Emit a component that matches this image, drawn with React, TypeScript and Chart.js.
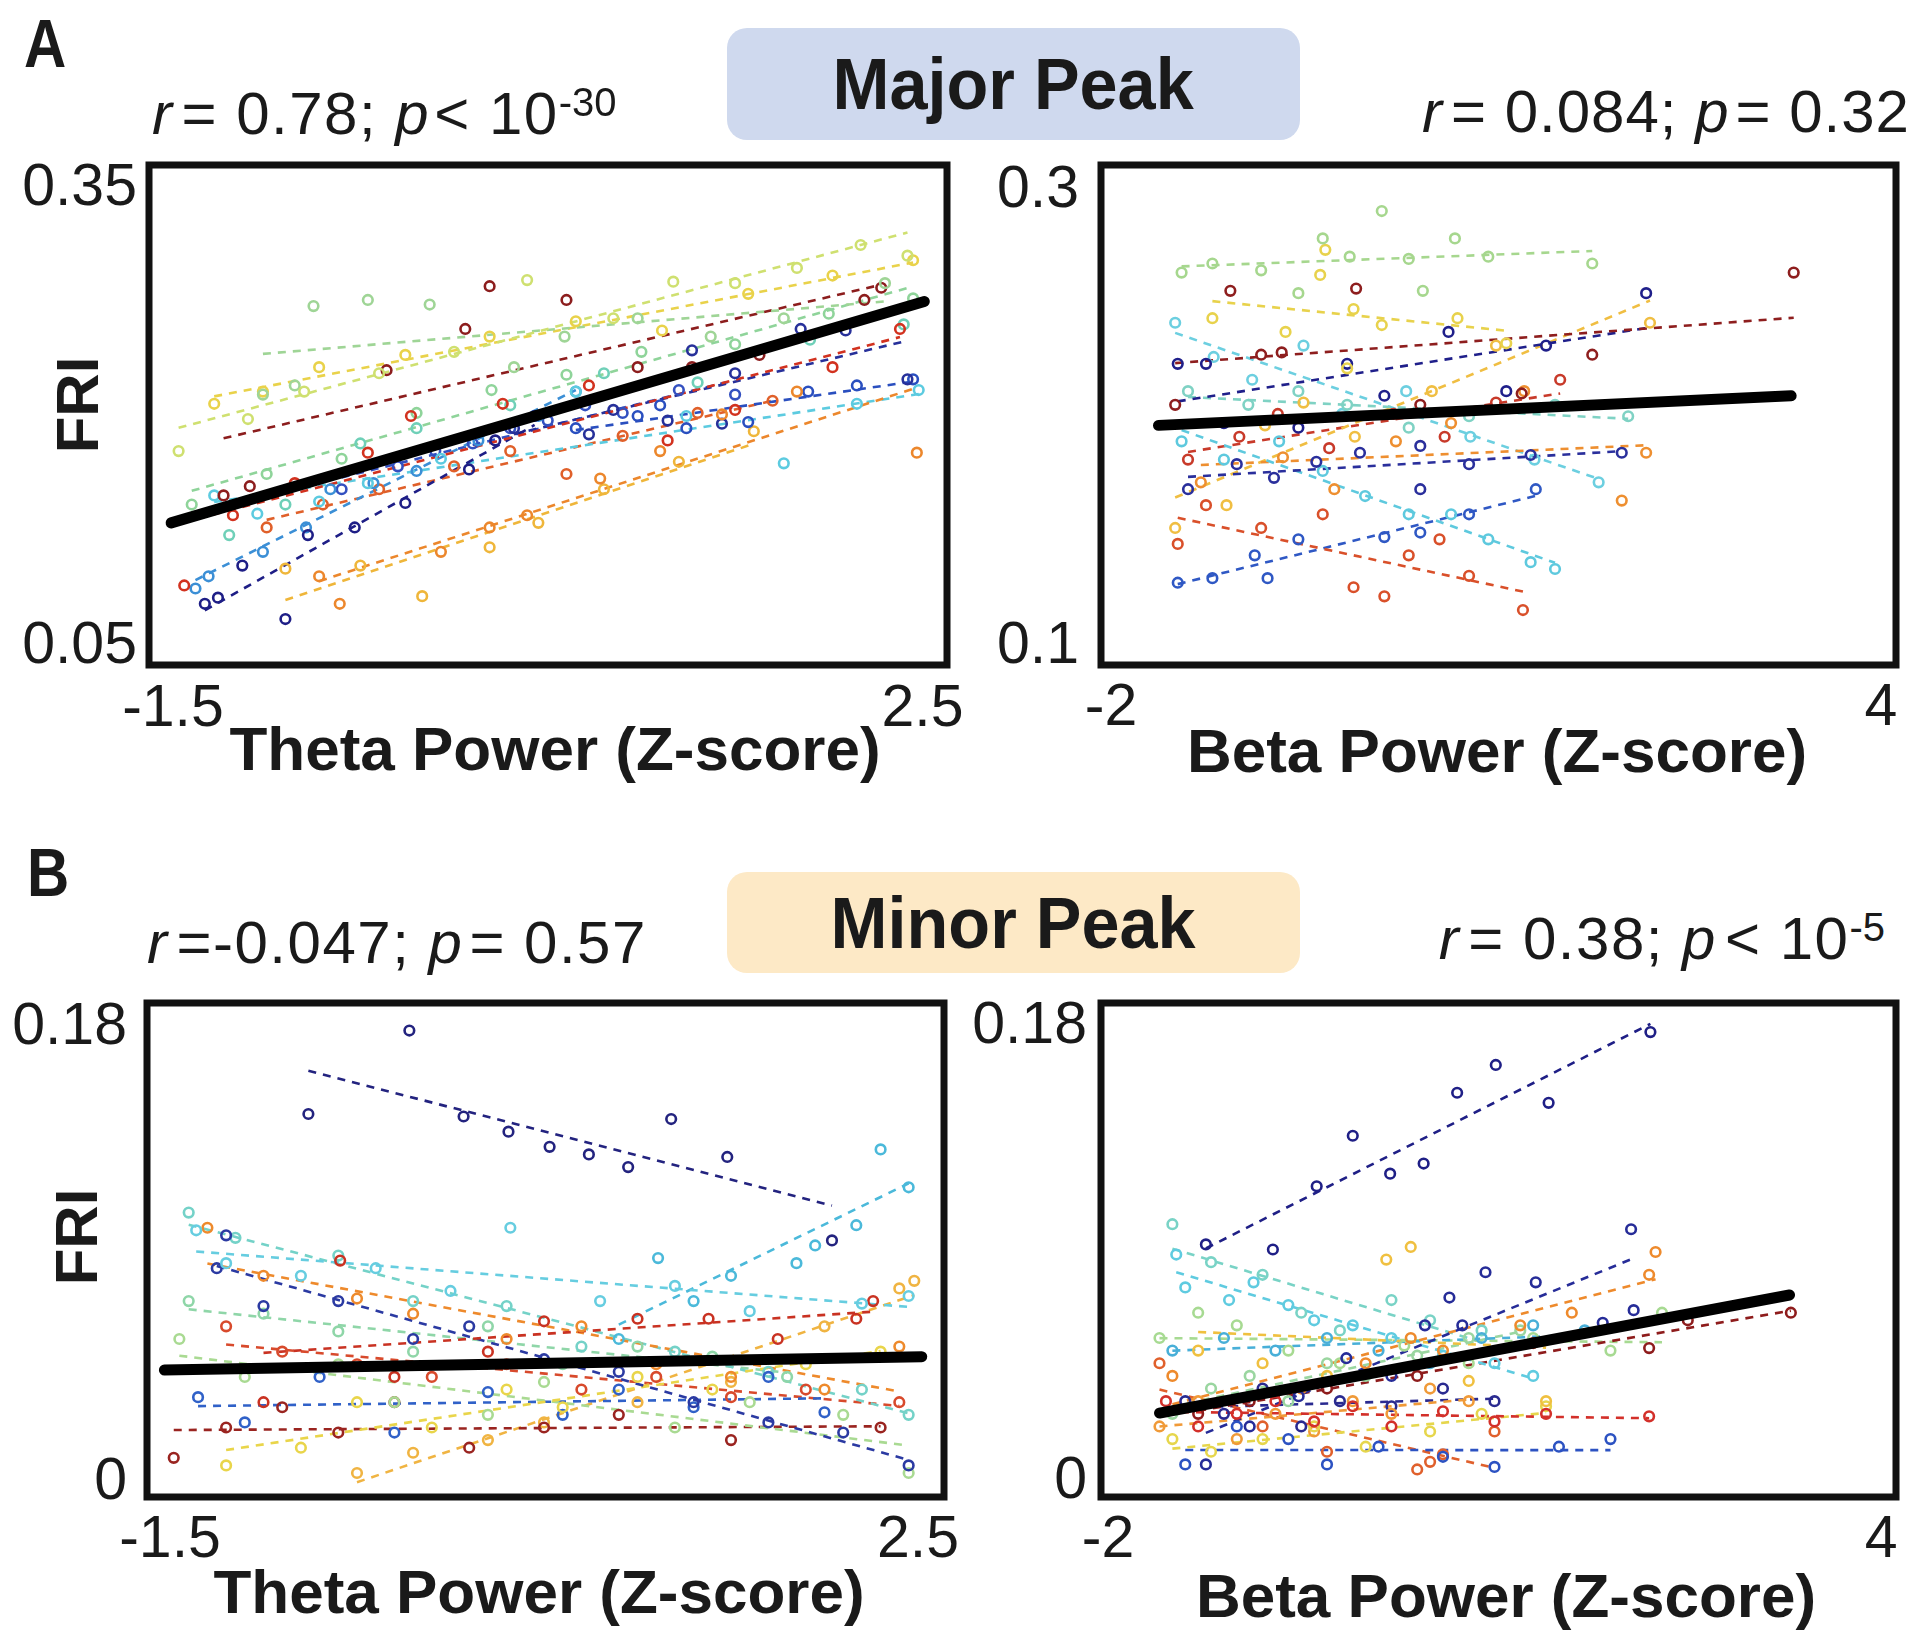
import React, { useEffect, useRef } from 'react';
import { Chart, registerables } from 'chart.js';

Chart.register(...registerables);

type Pt = [number, number];

// ================= Panel A (Major Peak) – Theta power vs FRI =================
const majThetaYellowGreen: Pt[] = [[-1.47,0.175],[-1.10,0.196],[-0.80,0.214],[-0.40,0.226],[0.00,0.240],[0.39,0.287],[0.85,0.262],[1.17,0.286],[1.50,0.285],[1.83,0.295],[2.17,0.310],[2.42,0.303]];
const majThetaLightGreen: Pt[] = [[-1.02,0.212],[-0.85,0.218],[-0.75,0.270],[-0.46,0.274],[-0.13,0.271],[0.32,0.230],[0.59,0.250],[0.98,0.262],[1.37,0.250],[1.76,0.262],[2.30,0.285]];
const majThetaYellow: Pt[] = [[-1.28,0.206],[-1.02,0.214],[-0.72,0.230],[-0.26,0.238],[0.19,0.250],[0.65,0.260],[1.11,0.254],[1.57,0.278],[2.02,0.290],[2.45,0.300]];
const majThetaDarkRed: Pt[] = [[-1.23,0.146],[-1.09,0.152],[-0.36,0.228],[0.06,0.255],[0.19,0.283],[0.60,0.274],[0.98,0.230],[1.27,0.230],[1.63,0.238],[2.19,0.274],[2.28,0.282]];
const majThetaRed: Pt[] = [[-1.44,0.087],[-1.18,0.133],[-0.85,0.154],[-0.46,0.174],[-0.23,0.198],[0.26,0.206],[0.72,0.218],[1.14,0.182],[1.50,0.202],[2.02,0.230],[2.38,0.255]];
const majThetaOrange: Pt[] = [[-0.72,0.093],[-0.61,0.075],[-0.07,0.109],[0.19,0.125],[0.39,0.133],[0.78,0.157],[1.10,0.175],[1.43,0.199],[1.83,0.214],[2.47,0.174]];
const majThetaNavy: Pt[] = [[-1.33,0.075],[-1.26,0.079],[-1.13,0.100],[-0.90,0.065],[-0.78,0.120],[-0.53,0.125],[-0.26,0.141],[0.08,0.163],[0.22,0.182],[0.43,0.198]];
const majThetaNavy2: Pt[] = [[0.32,0.190],[0.72,0.186],[0.85,0.202],[1.14,0.195],[1.27,0.241],[1.43,0.193],[1.50,0.226],[1.85,0.255],[2.09,0.254],[2.42,0.222]];
const majThetaCyan: Pt[] = [[-1.28,0.146],[-1.05,0.134],[-0.72,0.142],[-0.46,0.154],[-0.07,0.170],[0.65,0.214],[1.24,0.198],[1.76,0.167],[2.15,0.206],[2.48,0.215]];
const majThetaAzure: Pt[] = [[-1.38,0.085],[-1.31,0.093],[-1.02,0.109],[-0.79,0.125],[-0.66,0.150],[-0.43,0.154],[-0.20,0.162],[0.13,0.182],[0.45,0.198],[0.65,0.214]];
const majThetaBlue: Pt[] = [[0.65,0.190],[0.98,0.198],[1.10,0.205],[1.24,0.190],[1.57,0.194],[1.89,0.214],[2.15,0.218],[2.45,0.222]];
const majThetaAmber: Pt[] = [[-0.90,0.098],[-0.50,0.100],[-0.17,0.080],[0.19,0.112],[0.45,0.128],[0.80,0.150],[1.20,0.168],[1.60,0.188]];
const majThetaAqua: Pt[] = [[-1.20,0.120],[-0.90,0.140],[-0.50,0.180],[-0.20,0.190],[0.30,0.205],[0.80,0.226],[1.30,0.220],[1.90,0.248],[2.40,0.258]];
const majThetaMidBlue: Pt[] = [[-0.60,0.150],[-0.30,0.165],[-0.10,0.175],[0.10,0.180],[0.30,0.190],[0.50,0.195],[0.70,0.205],[0.90,0.200],[1.20,0.215],[1.50,0.212]];
const majThetaRedOrange: Pt[] = [[-1.00,0.125],[-0.70,0.140],[-0.40,0.150],[0.00,0.165],[0.30,0.175],[0.60,0.160],[0.90,0.185],[1.30,0.200],[1.70,0.208]];
const majThetaGreen2: Pt[] = [[-1.40,0.140],[-1.00,0.160],[-0.60,0.170],[-0.20,0.200],[0.20,0.215],[0.60,0.225],[1.00,0.240],[1.50,0.245],[2.00,0.265],[2.45,0.275]];
const majThetaSubjects = [majThetaYellowGreen, majThetaLightGreen, majThetaYellow, majThetaDarkRed, majThetaRed, majThetaOrange, majThetaNavy, majThetaNavy2, majThetaCyan, majThetaAzure, majThetaBlue, majThetaAmber, majThetaAqua, majThetaMidBlue, majThetaRedOrange, majThetaGreen2];
const majThetaColors = ['#cfe070', '#9fd596', '#e9d24a', '#8c1d1d', '#d2321f', '#ec872c', '#1e1e86', '#27309a', '#5ccbe0', '#3b8fd6', '#2a4fbf', '#efb63a', '#6fd0b8', '#3350c0', '#e0602a', '#8fd49a'];
const majThetaFitX = [-1.51, 2.51];
const majThetaFitY = [0.128, 0.273];
const majThetaXTicks = [-1.5, 2.5];
const majThetaYTicks = [0.35, 0.05];

// ================= Panel A (Major Peak) – Beta power vs FRI =================
const majBetaLightGreen: Pt[] = [[-1.45,0.262],[-1.21,0.266],[-0.83,0.263],[-0.54,0.253],[-0.35,0.277],[-0.14,0.269],[0.11,0.289],[0.32,0.268],[0.43,0.254],[0.68,0.277],[0.94,0.269],[1.75,0.266]];
const majBetaYellow: Pt[] = [[-1.21,0.242],[-0.64,0.236],[-0.37,0.261],[-0.33,0.272],[-0.16,0.220],[-0.11,0.246],[0.11,0.239],[0.70,0.242],[1.08,0.231]];
const majBetaDarkRed: Pt[] = [[-1.50,0.204],[-1.07,0.254],[-0.83,0.226],[-0.67,0.227],[-0.09,0.255],[0.41,0.204],[1.20,0.209],[1.75,0.226],[3.32,0.262]];
const majBetaNavy: Pt[] = [[-1.48,0.222],[-1.26,0.222],[-1.12,0.196],[-0.54,0.194],[-0.16,0.222],[0.13,0.208],[0.63,0.236],[1.08,0.210],[1.39,0.230],[2.17,0.253]];
const majBetaNavy2: Pt[] = [[-1.40,0.167],[-1.02,0.178],[-0.73,0.172],[-0.40,0.179],[-0.06,0.183],[0.41,0.186],[0.41,0.167],[0.79,0.178],[1.27,0.182],[1.98,0.183]];
const majBetaCyan: Pt[] = [[-1.45,0.188],[-1.12,0.180],[-0.69,0.188],[-0.35,0.175],[-0.02,0.164],[0.32,0.156],[0.65,0.156],[0.94,0.145],[1.27,0.135],[1.46,0.132]];
const majBetaRedOrange: Pt[] = [[-1.48,0.143],[-1.26,0.160],[-0.83,0.150],[-0.35,0.156],[-0.11,0.124],[0.13,0.120],[0.32,0.138],[0.56,0.145],[0.79,0.129],[1.21,0.114]];
const majBetaBlue: Pt[] = [[-1.48,0.126],[-1.21,0.128],[-0.88,0.138],[-0.78,0.128],[-0.54,0.145],[0.13,0.146],[0.41,0.148],[0.79,0.156],[1.31,0.167]];
const majBetaOrange: Pt[] = [[-1.30,0.170],[-0.66,0.181],[-0.26,0.167],[0.22,0.188],[0.65,0.196],[1.22,0.210],[1.98,0.162],[2.17,0.183]];
const majBetaAqua: Pt[] = [[-1.40,0.210],[-0.93,0.204],[-0.54,0.210],[-0.16,0.204],[0.32,0.194],[0.79,0.199],[1.46,0.204],[2.03,0.199]];
const majBetaAmber: Pt[] = [[-1.50,0.150],[-1.10,0.160],[-0.80,0.195],[-0.50,0.205],[-0.10,0.190],[0.50,0.210],[1.00,0.230],[2.20,0.240]];
const majBetaRed2: Pt[] = [[-1.40,0.180],[-1.00,0.190],[-0.70,0.200],[-0.30,0.185],[0.20,0.200],[0.60,0.190],[1.00,0.205],[1.50,0.215]];
const majBetaCyan2: Pt[] = [[-1.50,0.240],[-1.20,0.225],[-0.90,0.215],[-0.50,0.230],[-0.20,0.200],[0.30,0.210],[0.80,0.190],[1.30,0.180],[1.80,0.170]];
const majBetaSubjects = [majBetaLightGreen, majBetaYellow, majBetaDarkRed, majBetaNavy, majBetaNavy2, majBetaCyan, majBetaRedOrange, majBetaBlue, majBetaOrange, majBetaAqua, majBetaAmber, majBetaRed2, majBetaCyan2];
const majBetaColors = ['#a6d78e', '#e8d24c', '#8e1e1e', '#1f1f8a', '#2a2f9c', '#5ec9de', '#d9502a', '#2f58c4', '#ee8f30', '#7fd2c4', '#f0be42', '#c83a2a', '#6ccfe0'];
const majBetaFitX = [-1.63, 3.30];
const majBetaFitY = [0.195, 0.208];
const majBetaXTicks = [-2, 4];
const majBetaYTicks = [0.3, 0.1];

// ================= Panel B (Minor Peak) – Theta power vs FRI =================
const minThetaNavy: Pt[] = [[-0.76,0.144],[-0.22,0.177],[0.07,0.143],[0.31,0.137],[0.53,0.131],[0.74,0.128],[0.95,0.123],[1.18,0.142],[1.48,0.127],[2.04,0.094]];
const minThetaCyan: Pt[] = [[-1.36,0.098],[-1.20,0.085],[-0.80,0.080],[-0.40,0.083],[0.00,0.074],[0.32,0.099],[0.80,0.070],[1.20,0.076],[1.60,0.066],[2.20,0.069],[2.45,0.072]];
const minThetaAzure: Pt[] = [[0.90,0.055],[1.11,0.087],[1.30,0.070],[1.50,0.080],[1.85,0.085],[1.95,0.092],[2.17,0.100],[2.30,0.130],[2.45,0.115]];
const minThetaRed: Pt[] = [[-1.00,0.030],[-0.59,0.086],[-0.30,0.040],[0.20,0.050],[0.50,0.062],[1.00,0.063],[1.38,0.063],[1.75,0.055],[2.17,0.063],[2.26,0.070]];
const minThetaOrange: Pt[] = [[-1.30,0.099],[-1.00,0.080],[-0.50,0.071],[-0.20,0.065],[0.30,0.055],[0.70,0.060],[1.10,0.045],[1.50,0.040],[2.00,0.035],[2.40,0.052]];
const minThetaNavy2: Pt[] = [[-1.25,0.083],[-1.20,0.096],[-1.00,0.068],[-0.60,0.070],[-0.20,0.055],[0.10,0.060],[0.50,0.047],[0.90,0.042],[1.30,0.030],[1.70,0.022],[2.10,0.018],[2.45,0.005]];
const minThetaYellow: Pt[] = [[-1.20,0.005],[-0.80,0.012],[-0.50,0.030],[-0.10,0.020],[0.30,0.035],[0.60,0.028],[1.00,0.040],[1.40,0.035],[1.90,0.045],[2.30,0.050]];
const minThetaLightGreen: Pt[] = [[-1.45,0.055],[-1.10,0.040],[-0.60,0.045],[-0.30,0.030],[0.20,0.025],[0.50,0.038],[1.20,0.020],[1.60,0.030],[2.10,0.025],[2.45,0.002]];
const minThetaBlue: Pt[] = [[-1.35,0.032],[-1.10,0.022],[-0.70,0.040],[-0.30,0.018],[0.20,0.034],[0.60,0.025],[0.90,0.035],[1.30,0.028],[1.70,0.040],[2.00,0.026]];
const minThetaDarkRed: Pt[] = [[-1.48,0.008],[-1.20,0.020],[-0.90,0.028],[-0.60,0.018],[-0.30,0.030],[0.10,0.012],[0.50,0.020],[0.90,0.025],[1.50,0.015],[2.30,0.020]];
const minThetaAqua: Pt[] = [[-1.40,0.105],[-1.15,0.095],[-0.60,0.088],[-0.20,0.070],[0.30,0.068],[0.70,0.052],[1.20,0.050],[1.70,0.042],[2.20,0.035],[2.45,0.025]];
const minThetaAmber: Pt[] = [[-0.50,0.002],[-0.20,0.010],[0.20,0.015],[0.50,0.022],[1.00,0.030],[1.50,0.038],[2.00,0.060],[2.40,0.075],[2.48,0.078]];
const minThetaRed2: Pt[] = [[-1.20,0.060],[-0.90,0.050],[-0.50,0.045],[-0.10,0.040],[0.30,0.045],[0.70,0.035],[1.10,0.040],[1.50,0.032],[1.90,0.035],[2.40,0.030]];
const minThetaGreen2: Pt[] = [[-1.40,0.070],[-1.00,0.065],[-0.60,0.058],[-0.20,0.050],[0.20,0.060],[0.60,0.045],[1.00,0.052],[1.40,0.048],[1.80,0.040]];
const minThetaSubjects = [minThetaNavy, minThetaCyan, minThetaAzure, minThetaRed, minThetaOrange, minThetaNavy2, minThetaYellow, minThetaLightGreen, minThetaBlue, minThetaDarkRed, minThetaAqua, minThetaAmber, minThetaRed2, minThetaGreen2];
const minThetaColors = ['#23237f', '#66cde0', '#4bb9da', '#c93222', '#ee8a2c', '#2b3aa2', '#e9d54a', '#a9da92', '#3061c8', '#9a2420', '#74d2c8', '#f0b442', '#d84a2c', '#8fd6a8'];
const minThetaFitX = [-1.53, 2.52];
const minThetaFitY = [0.0427, 0.048];
const minThetaXTicks = [-1.5, 2.5];
const minThetaYTicks = [0.18, 0];

// ================= Panel B (Minor Peak) – Beta power vs FRI =================
const minBetaNavy: Pt[] = [[-1.24,0.092],[-0.72,0.090],[-0.38,0.115],[-0.10,0.135],[0.19,0.120],[0.45,0.124],[0.71,0.152],[1.01,0.163],[1.42,0.148],[2.21,0.176]];
const minBetaNavy2: Pt[] = [[-1.24,0.005],[-0.90,0.020],[-0.52,0.032],[-0.15,0.047],[0.20,0.040],[0.46,0.060],[0.65,0.071],[0.75,0.060],[0.93,0.081],[1.32,0.077],[1.84,0.061],[2.06,0.098],[2.08,0.066]];
const minBetaOrange: Pt[] = [[-1.50,0.040],[-0.50,0.035],[0.00,0.045],[0.35,0.055],[0.60,0.050],[1.20,0.060],[1.60,0.065],[2.20,0.080],[2.25,0.089]];
const minBetaAmber: Pt[] = [[-1.30,0.050],[-0.80,0.045],[-0.30,0.040],[0.16,0.086],[0.35,0.091],[0.80,0.038],[1.40,0.030]];
const minBetaCyan: Pt[] = [[-1.47,0.088],[-1.40,0.075],[-1.06,0.070],[-0.87,0.077],[-0.60,0.068],[-0.40,0.062],[-0.10,0.060],[0.20,0.055],[0.60,0.048],[1.00,0.045],[1.30,0.040]];
const minBetaAzure: Pt[] = [[-1.50,0.050],[-1.10,0.055],[-0.70,0.050],[-0.30,0.055],[0.10,0.050],[0.50,0.045],[0.90,0.055],[1.30,0.060],[1.70,0.058]];
const minBetaRed: Pt[] = [[-1.55,0.030],[-1.30,0.020],[-1.00,0.025],[-0.70,0.030],[-0.40,0.022],[-0.10,0.028],[0.20,0.020],[0.60,0.026],[1.00,0.022],[1.40,0.025],[2.20,0.024]];
const minBetaDarkRed: Pt[] = [[-1.30,0.025],[-0.90,0.030],[-0.30,0.035],[0.40,0.040],[1.30,0.053],[2.20,0.051],[2.50,0.062],[3.30,0.065]];
const minBetaYellow: Pt[] = [[-1.50,0.015],[-1.20,0.010],[-0.80,0.015],[-0.40,0.020],[0.00,0.012],[0.50,0.018],[0.90,0.025],[1.40,0.028]];
const minBetaLightGreen: Pt[] = [[-1.60,0.055],[-1.30,0.065],[-1.00,0.060],[-0.60,0.050],[-0.20,0.045],[0.30,0.052],[0.80,0.045],[1.30,0.055],[1.90,0.050],[2.30,0.065]];
const minBetaBlue: Pt[] = [[-1.40,0.005],[-1.00,0.020],[-0.60,0.015],[-0.30,0.005],[0.10,0.012],[0.60,0.008],[1.00,0.004],[1.50,0.012],[1.90,0.015]];
const minBetaRedOrange: Pt[] = [[-1.60,0.045],[-0.80,0.020],[-0.30,0.010],[0.40,0.003],[0.50,0.006],[0.60,0.009],[1.00,0.018]];
const minBetaAqua: Pt[] = [[-1.50,0.100],[-1.20,0.085],[-0.80,0.080],[-0.50,0.065],[-0.20,0.058],[0.20,0.070],[0.50,0.062],[0.90,0.058]];
const minBetaOrange2: Pt[] = [[-1.60,0.020],[-1.30,0.030],[-1.00,0.015],[-0.70,0.025],[-0.40,0.018],[-0.10,0.030],[0.20,0.025],[0.50,0.035],[0.80,0.030]];
const minBetaGreen2: Pt[] = [[-1.50,0.025],[-1.20,0.035],[-0.90,0.040],[-0.60,0.030],[-0.30,0.045],[0.00,0.040],[0.40,0.048],[0.80,0.055],[1.20,0.058]];
const minBetaNavy3: Pt[] = [[-1.40,0.030],[-1.10,0.025],[-0.80,0.035],[-0.50,0.020],[-0.20,0.030],[0.20,0.028],[0.60,0.035],[1.00,0.030]];
const minBetaSubjects = [minBetaNavy, minBetaNavy2, minBetaOrange, minBetaAmber, minBetaCyan, minBetaAzure, minBetaRed, minBetaDarkRed, minBetaYellow, minBetaLightGreen, minBetaBlue, minBetaRedOrange, minBetaAqua, minBetaOrange2, minBetaGreen2, minBetaNavy3];
const minBetaColors = ['#1f1f86', '#262c98', '#ee8a2c', '#f0c040', '#5fcbe0', '#48afd8', '#d3302a', '#8e1c1c', '#e6d64c', '#a7da92', '#2c52c2', '#e0602c', '#79d3c6', '#f09a38', '#9ad6a0', '#2a2a90'];
const minBetaFitX = [-1.60, 3.29];
const minBetaFitY = [0.0253, 0.072];
const minBetaXTicks = [-2, 4];
const minBetaYTicks = [0.18, 0];

// ================= helpers =================
const FONT = '"Liberation Sans", Arial, Helvetica, sans-serif';
const INK = '#1a1a1a';

function fitSegment(pts: Pt[]) {
  const n = pts.length;
  let sx = 0, sy = 0;
  for (const [x, y] of pts) { sx += x; sy += y; }
  const mx = sx / n, my = sy / n;
  let sxx = 0, sxy = 0;
  for (const [x, y] of pts) { sxx += (x - mx) * (x - mx); sxy += (x - mx) * (y - my); }
  const b = sxx === 0 ? 0 : sxy / sxx;
  const a = my - b * mx;
  const xs = pts.map((p) => p[0]);
  const x0 = Math.min(...xs), x1 = Math.max(...xs);
  return [{ x: x0, y: a + b * x0 }, { x: x1, y: a + b * x1 }];
}

const framePlugin = {
  id: 'frame',
  afterDatasetsDraw(chart: any, _args: any, opts: any) {
    const { ctx, chartArea: a, scales } = chart;
    ctx.save();
    ctx.lineWidth = 7;
    ctx.strokeStyle = '#111';
    ctx.strokeRect(a.left, a.top, a.right - a.left, a.bottom - a.top);
    const fs = 59;
    ctx.font = `${fs}px ${FONT}`;
    ctx.fillStyle = INK;
    ctx.textBaseline = 'alphabetic';
    ctx.textAlign = 'right';
    for (const v of opts.yTicks as number[]) {
      ctx.fillText(String(v), opts.yLabelRight, scales.y.getPixelForValue(v) + 0.358 * fs);
    }
    ctx.textAlign = 'center';
    for (const v of opts.xTicks as number[]) {
      ctx.fillText(String(v), scales.x.getPixelForValue(v), opts.xLabelCenterY + 0.358 * fs);
    }
    ctx.restore();
  },
};

type PanelSpec = {
  left: number; top: number; w: number; h: number;
  pad: { left: number; right: number; top: number; bottom: number };
  xMin: number; xMax: number; yMin: number; yMax: number;
  subjects: Pt[][]; colors: string[];
  fitX: number[]; fitY: number[];
  xTicks: number[]; yTicks: number[];
  yLabelRight: number; xLabelCenterY: number;
};

function buildConfig(s: PanelSpec): any {
  const datasets: any[] = [];
  datasets.push({
    data: s.fitX.map((x, i) => ({ x, y: s.fitY[i] })),
    showLine: true, borderColor: '#000', borderWidth: 11, borderCapStyle: 'round',
    pointRadius: 0, order: 0,
  });
  s.subjects.forEach((pts, i) => {
    const c = s.colors[i];
    datasets.push({
      data: fitSegment(pts), showLine: true, borderColor: c, borderWidth: 2.6,
      borderDash: [8, 7], pointRadius: 0, order: 2,
    });
    datasets.push({
      data: pts.map(([x, y]) => ({ x, y })), showLine: false,
      pointBorderColor: c, pointBackgroundColor: 'rgba(0,0,0,0)', borderColor: c,
      pointRadius: 4.8, pointBorderWidth: 2.6, order: 1,
    });
  });
  return {
    type: 'scatter',
    data: { datasets },
    options: {
      animation: false, responsive: false, devicePixelRatio: 1, events: [],
      layout: { padding: s.pad },
      plugins: {
        legend: { display: false }, tooltip: { enabled: false },
        frame: { xTicks: s.xTicks, yTicks: s.yTicks, yLabelRight: s.yLabelRight, xLabelCenterY: s.xLabelCenterY },
      },
      scales: {
        x: { type: 'linear', display: false, min: s.xMin, max: s.xMax },
        y: { type: 'linear', display: false, min: s.yMin, max: s.yMax },
      },
    },
    plugins: [framePlugin],
  };
}

const panels: PanelSpec[] = [
  {
    left: 0, top: 140, w: 980, h: 620, pad: { left: 149, right: 33, top: 25, bottom: 95 },
    xMin: -1.628, xMax: 2.631, yMin: 0.0349, yMax: 0.3624,
    subjects: majThetaSubjects, colors: majThetaColors, fitX: majThetaFitX, fitY: majThetaFitY,
    xTicks: majThetaXTicks, yTicks: majThetaYTicks, yLabelRight: 137, xLabelCenterY: 565,
  },
  {
    left: 940, top: 140, w: 980, h: 620, pad: { left: 161, right: 24, top: 25, bottom: 95 },
    xMin: -2.078, xMax: 4.117, yMin: 0.0899, yMax: 0.3092,
    subjects: majBetaSubjects, colors: majBetaColors, fitX: majBetaFitX, fitY: majBetaFitY,
    xTicks: majBetaXTicks, yTicks: majBetaYTicks, yLabelRight: 139, xLabelCenterY: 564,
  },
  {
    left: 0, top: 980, w: 980, h: 620, pad: { left: 147, right: 36, top: 23, bottom: 103 },
    xMin: -1.623, xMax: 2.639, yMin: -0.0075, yMax: 0.1879,
    subjects: minThetaSubjects, colors: minThetaColors, fitX: minThetaFitX, fitY: minThetaFitY,
    xTicks: minThetaXTicks, yTicks: minThetaYTicks, yLabelRight: 127, xLabelCenterY: 556,
  },
  {
    left: 940, top: 980, w: 980, h: 620, pad: { left: 161, right: 24, top: 23, bottom: 103 },
    xMin: -2.054, xMax: 4.116, yMin: -0.0079, yMax: 0.1875,
    subjects: minBetaSubjects, colors: minBetaColors, fitX: minBetaFitX, fitY: minBetaFitY,
    xTicks: minBetaXTicks, yTicks: minBetaYTicks, yLabelRight: 147, xLabelCenterY: 556,
  },
];

function Panel({ spec }: { spec: PanelSpec }) {
  const ref = useRef<HTMLCanvasElement>(null);
  useEffect(() => {
    const chart = new Chart(ref.current as HTMLCanvasElement, buildConfig(spec));
    return () => chart.destroy();
  }, [spec]);
  return (
    <canvas
      ref={ref}
      width={spec.w}
      height={spec.h}
      style={{ position: 'absolute', left: spec.left, top: spec.top, width: spec.w, height: spec.h }}
    />
  );
}

const textBase: React.CSSProperties = {
  position: 'absolute', fontFamily: FONT, color: INK, whiteSpace: 'nowrap', lineHeight: 1,
};

function Stat({ children, style }: { children: React.ReactNode; style: React.CSSProperties }) {
  return <div style={{ ...textBase, fontSize: 60, letterSpacing: 1.5, ...style }}>{children}</div>;
}

const it = (s: string, pr = 8) => <i style={{ paddingRight: pr }}>{s}</i>;
const sup = (s: string) => <span style={{ fontSize: 40, position: 'relative', top: -18, letterSpacing: 0 }}>{s}</span>;

function AxisTitle({ text, cx, baseline }: { text: string; cx: number; baseline: number }) {
  return (
    <div style={{ ...textBase, fontSize: 62, fontWeight: 700, left: cx - 500, width: 1000, textAlign: 'center', top: baseline - 0.8465 * 62 }}>
      {text}
    </div>
  );
}

function FRI({ cx, cy }: { cx: number; cy: number }) {
  return (
    <div style={{ ...textBase, fontSize: 60, fontWeight: 700, left: cx - 60, top: cy - 30, width: 120, height: 60, lineHeight: '60px', textAlign: 'center', transform: 'rotate(-90deg)' }}>
      FRI
    </div>
  );
}

function PeakBox({ label, top, height, bg }: { label: string; top: number; height: number; bg: string }) {
  return (
    <div style={{ position: 'absolute', left: 727, top, width: 573, height, borderRadius: 20, background: bg, display: 'flex', alignItems: 'center', justifyContent: 'center' }}>
      <span style={{ fontFamily: FONT, fontWeight: 700, fontSize: 72, lineHeight: 1, color: INK, transform: 'scaleX(0.95)', display: 'inline-block' }}>{label}</span>
    </div>
  );
}

export default function App() {
  return (
    <div style={{ position: 'absolute', left: 0, top: 0, width: 1920, height: 1643, background: '#fff', overflow: 'hidden' }}>
      {panels.map((p, i) => <Panel key={i} spec={p} />)}

      <div style={{ ...textBase, left: 24, top: 67 - 0.8465 * 68, fontSize: 68, fontWeight: 700, transform: 'scaleX(0.86)', transformOrigin: 'left top' }}>A</div>
      <div style={{ ...textBase, left: 27, top: 896 - 0.8465 * 68, fontSize: 68, fontWeight: 700, transform: 'scaleX(0.86)', transformOrigin: 'left top' }}>B</div>

      <PeakBox label="Major Peak" top={28} height={112} bg="#cfd9ee" />
      <PeakBox label="Minor Peak" top={872} height={101} bg="#fde9c6" />

      <Stat style={{ left: 152, top: 135 - 0.8465 * 60 }}>{it('r')}= 0.78; {it('p', 4)}&lt; 10{sup('-30')}</Stat>
      <Stat style={{ right: 10, top: 133 - 0.8465 * 60, letterSpacing: 1 }}>{it('r')}= 0.084; {it('p', 6)}= 0.32</Stat>
      <Stat style={{ left: 147, top: 964 - 0.8465 * 60 }}>{it('r')}=-0.047; {it('p', 6)}= 0.57</Stat>
      <Stat style={{ right: 35, top: 960 - 0.8465 * 60 }}>{it('r')}= 0.38; {it('p')}&lt; 10{sup('-5')}</Stat>

      <FRI cx={78} cy={405} />
      <FRI cx={77} cy={1237} />

      <AxisTitle text="Theta Power (Z-score)" cx={555} baseline={770} />
      <AxisTitle text="Beta Power (Z-score)" cx={1497} baseline={772} />
      <AxisTitle text="Theta Power (Z-score)" cx={539} baseline={1613} />
      <AxisTitle text="Beta Power (Z-score)" cx={1506} baseline={1617} />
    </div>
  );
}
